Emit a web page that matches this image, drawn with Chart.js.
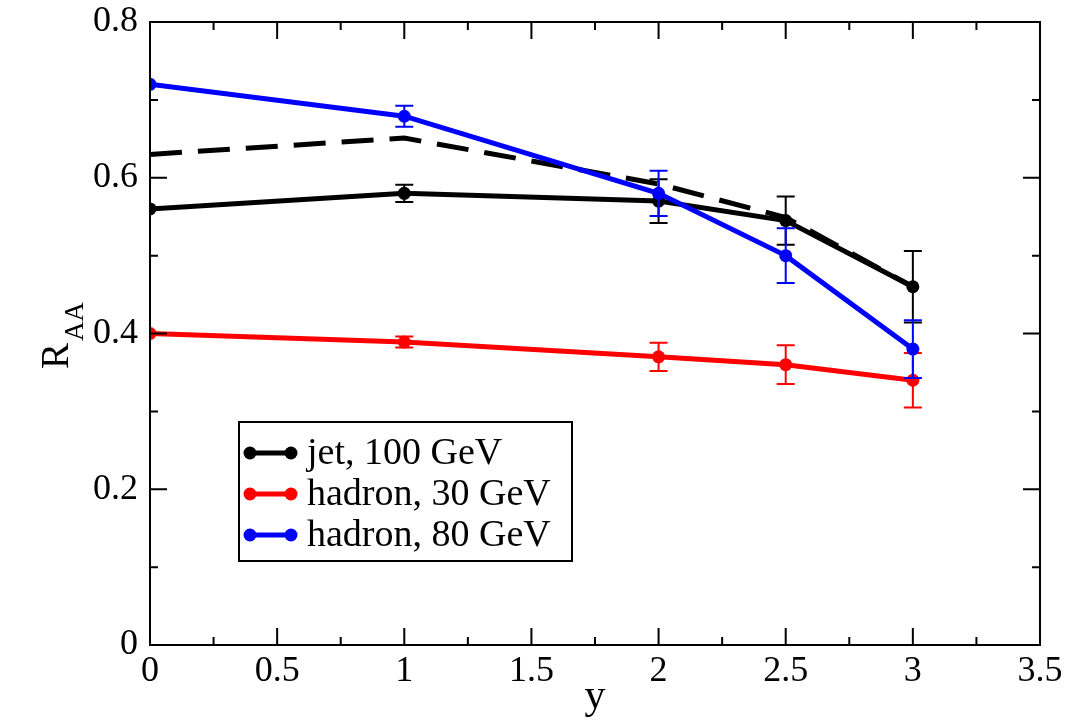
<!DOCTYPE html>
<html><head><meta charset="utf-8">
<script src="https://cdn.jsdelivr.net/npm/chart.js@4"></script>
<style>html,body{margin:0;padding:0;background:#fff;overflow:hidden}#wrap{width:1077px;height:721px;position:relative}</style>
</head><body><div id="wrap"><canvas id="c"></canvas></div>
<script>
// ---- data ----
const rapidity = [0, 1, 2, 2.5, 3];
const jet100 = [0.56, 0.58, 0.57, 0.545, 0.46];
const jet100Err = [0, 0.011, 0.028, 0.031, 0.046];
const jet100Dashed = [0.63, 0.651, 0.592, 0.549, 0.46];
const had30 = [0.40, 0.389, 0.370, 0.360, 0.340];
const had30Err = [0, 0.007, 0.018, 0.025, 0.035];
const had80 = [0.72, 0.679, 0.580, 0.500, 0.380];
const had80Err = [0, 0.0135, 0.029, 0.035, 0.037];
const seriesLabels = ['jet, 100 GeV', 'hadron, 30 GeV', 'hadron, 80 GeV'];
const xTickValues = [0, 0.5, 1, 1.5, 2, 2.5, 3, 3.5];
const xTickLabels = ['0', '0.5', '1', '1.5', '2', '2.5', '3', '3.5'];
const yTickValues = [0, 0.2, 0.4, 0.6, 0.8];
const yTickLabels = ['0', '0.2', '0.4', '0.6', '0.8'];
const xTitle = 'y';
const yTitleMain = 'R';
const yTitleSub = 'AA';

const FONT = '"Liberation Serif", "Times New Roman", serif';
const pts = (xs, ys) => xs.map((x, i) => ({x, y: ys[i]}));

const datasets = [
  {label: seriesLabels[2], data: pts(rapidity, had80), err: had80Err, borderColor: '#0000ff', backgroundColor: '#0000ff', order: 0, inLegend: true, legendRank: 2},
  {label: '', data: pts(rapidity, jet100Dashed), borderColor: '#000', borderDash: [32, 16], pointRadius: 0, order: 1, inLegend: false},
  {label: seriesLabels[0], data: pts(rapidity, jet100), err: jet100Err, borderColor: '#000', backgroundColor: '#000', order: 2, inLegend: true, legendRank: 0},
  {label: seriesLabels[1], data: pts(rapidity, had30), err: had30Err, borderColor: '#ff0000', backgroundColor: '#ff0000', order: 3, inLegend: true, legendRank: 1},
];

const decor = {
  id: 'decor',
  afterDatasetDraw(chart, args) {
    const ds = chart.data.datasets[args.index];
    if (!ds.err) return;
    const {ctx, scales: {x, y}} = chart;
    ctx.save();
    ctx.strokeStyle = ds.borderColor;
    ctx.lineWidth = 2;
    ds.data.forEach((p, i) => {
      const e = ds.err[i];
      if (!e) return;
      const px = x.getPixelForValue(p.x);
      const top = y.getPixelForValue(p.y + e), bot = y.getPixelForValue(p.y - e);
      ctx.beginPath();
      ctx.moveTo(px, top); ctx.lineTo(px, bot);
      ctx.moveTo(px - 9, top); ctx.lineTo(px + 9, top);
      ctx.moveTo(px - 9, bot); ctx.lineTo(px + 9, bot);
      ctx.stroke();
    });
    ctx.restore();
  },
  afterDraw(chart) {
    const {ctx, chartArea: a, scales: {x, y}} = chart;
    ctx.save();
    ctx.strokeStyle = '#000';
    ctx.lineWidth = 2;
    ctx.strokeRect(a.left, a.top, a.right - a.left, a.bottom - a.top);
    ctx.beginPath();
    for (let v = 0; v <= 3.5001; v += 0.25) {
      const major = Math.abs(v * 2 - Math.round(v * 2)) < 1e-6;
      const L = major ? 17 : 8;
      const px = x.getPixelForValue(v);
      ctx.moveTo(px, a.bottom); ctx.lineTo(px, a.bottom - L);
      ctx.moveTo(px, a.top); ctx.lineTo(px, a.top + L);
    }
    for (let v = 0; v <= 0.8001; v += 0.1) {
      const major = Math.abs(v * 5 - Math.round(v * 5)) < 1e-6;
      const L = major ? 17 : 8;
      const py = y.getPixelForValue(v);
      ctx.moveTo(a.left, py); ctx.lineTo(a.left + L, py);
      ctx.moveTo(a.right, py); ctx.lineTo(a.right - L, py);
    }
    ctx.stroke();

    // axis titles
    ctx.fillStyle = '#000';
    ctx.font = '42px ' + FONT;
    ctx.textAlign = 'center';
    ctx.textBaseline = 'alphabetic';
    ctx.fillText(xTitle, (a.left + a.right) / 2, 708);

    ctx.save();
    ctx.translate(68, 369);
    ctx.rotate(-Math.PI / 2);
    ctx.textAlign = 'left';
    ctx.font = '39px ' + FONT;
    ctx.fillText(yTitleMain, 0, 0);
    const w = ctx.measureText(yTitleMain).width;
    ctx.font = '27px ' + FONT;
    ctx.fillText(yTitleSub, w + 2, 15);
    ctx.restore();

    // legend box
    const bx = 239, by = 422, bw = 333, bh = 139;
    ctx.fillStyle = '#fff';
    ctx.fillRect(bx, by, bw, bh);
    ctx.strokeRect(bx, by, bw, bh);
    const items = chart.data.datasets.filter(d => d.inLegend).sort((p, q) => p.legendRank - q.legendRank);
    items.forEach((d, i) => {
      const cy = by + 31 + i * 41;
      ctx.strokeStyle = d.borderColor;
      ctx.fillStyle = d.borderColor;
      ctx.lineWidth = 5;
      ctx.beginPath(); ctx.moveTo(250, cy); ctx.lineTo(291, cy); ctx.stroke();
      [250, 291].forEach(cx => { ctx.beginPath(); ctx.arc(cx, cy, 6.5, 0, Math.PI * 2); ctx.fill(); });
      ctx.fillStyle = '#000';
      ctx.font = '38px ' + FONT;
      ctx.textAlign = 'left';
      ctx.textBaseline = 'middle';
      ctx.fillText(d.label, 307, cy + 1);
    });
    ctx.restore();
  }
};

new Chart(document.getElementById('c'), {
  type: 'line',
  data: {datasets},
  options: {
    responsive: true,
    maintainAspectRatio: false,
    animation: false,
    events: [],
    layout: {padding: {top: 22, right: 37, left: 0, bottom: 0}},
    elements: {
      line: {borderWidth: 5, tension: 0},
      point: {radius: 6.5, borderWidth: 0}
    },
    plugins: {legend: {display: false}, tooltip: {enabled: false}},
    scales: {
      x: {
        type: 'linear', min: 0, max: 3.5,
        grid: {display: false, drawTicks: false},
        border: {display: false},
        afterBuildTicks: s => { s.ticks = xTickValues.map(v => ({value: v})); },
        afterFit: s => { s.height = 76; s.paddingLeft = 0; s.paddingRight = 0; s.paddingTop = 0; s.paddingBottom = 0; },
        ticks: {color: '#000', font: {family: FONT, size: 36}, padding: 5, maxRotation: 0, autoSkip: false,
          callback: (v) => xTickLabels[xTickValues.indexOf(v)] ?? String(v)}
      },
      y: {
        type: 'linear', min: 0, max: 0.8,
        grid: {display: false, drawTicks: false},
        border: {display: false},
        afterBuildTicks: s => { s.ticks = yTickValues.map(v => ({value: v})); },
        afterFit: s => { s.width = 150; s.paddingLeft = 0; s.paddingRight = 0; s.paddingTop = 0; s.paddingBottom = 0; },
        ticks: {color: '#000', font: {family: FONT, size: 36}, padding: 12,
          callback: (v) => yTickLabels[yTickValues.indexOf(v)] ?? String(v)}
      }
    }
  },
  plugins: [decor]
});
</script>
</body></html>
